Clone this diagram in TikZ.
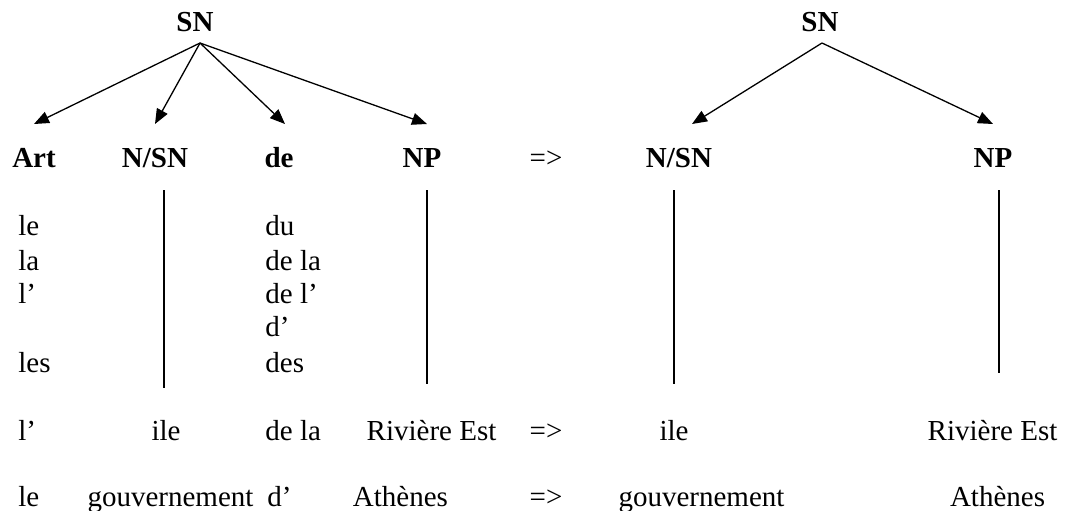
\documentclass[tikz,border=0pt]{standalone}
\usepackage{fontspec}
\setmainfont{Liberation Serif}
\usetikzlibrary{arrows.meta}
\newcommand{\treefont}{\fontsize{14.5}{17}\selectfont}
\tikzset{
  root/.style={font=\treefont\bfseries,inner sep=0pt,outer ysep=6pt,text height=10pt,text depth=0pt,anchor=base},
  cat/.style={font=\treefont\bfseries,inner sep=0pt,outer ysep=11.5pt,text height=10pt,text depth=0pt,anchor=base},
  word/.style={font=\treefont,inner sep=0pt,text height=10pt,text depth=0pt,anchor=base west},
  form/.style={font=\treefont,inner sep=0pt,text height=10pt,text depth=0pt,anchor=base},
  branch/.style={-{Triangle[length=7.5pt,width=6pt]},line width=0.65pt},
  stem/.style={line width=0.65pt}
}

\begin{document}
\begin{tikzpicture}[x=0.5pt,y=-0.5pt]
    \useasboundingbox (0,0) rectangle (1069,510);

    % — Left tree: categories
    \node [root] (snL)   at (195, 31) {SN};
    \node [cat]  (art)   at ( 34,167) {Art};
    \node [cat]  (nsnL)  at (155,167) {N/SN};
    \node [cat]  (de)    at (279,167) {de};
    \node [cat]  (npL)   at (422,167) {NP};
    \node [form] (impl1) at (546,167) {=>};

    % — Right tree: categories
    \node [root] (snR)   at (820, 31) {SN};
    \node [cat]  (nsnR)  at (679,167) {N/SN};
    \node [cat]  (npR)   at (993,167) {NP};

    % — Forms of the article and of the preposition
    \node [word] (art1) at ( 18,235) {le};
    \node [word] (art2) at ( 18,270) {la};
    \node [word] (art3) at ( 18,303) {l’};
    \node [word] (art4) at ( 18,372) {les};
    \node [word] (de1)  at (265,235) {du};
    \node [word] (de2)  at (265,270) {de la};
    \node [word] (de3)  at (265,303) {de l’};
    \node [word] (de4)  at (265,336) {d’};
    \node [word] (de5)  at (265,372) {des};

    % — First example
    \node [word] (exA1)  at ( 18,440) {l’};
    \node [form] (ileL)  at (166,440) {ile};
    \node [word] (exA2)  at (265,440) {de la};
    \node [form] (rivL)  at (431.5,440) {Rivière Est};
    \node [form] (impl2) at (546,440) {=>};
    \node [form] (ileR)  at (674,440) {ile};
    \node [form] (rivR)  at (992.5,440) {Rivière Est};

    % — Second example
    \node [word] (exB1)  at ( 18,506) {le};
    \node [form] (gouvL) at (170.5,506) {gouvernement};
    \node [word] (exB2)  at (267,506) {d’};
    \node [form] (athL)  at (400.5,506) {Athènes};
    \node [form] (impl3) at (546,506) {=>};
    \node [form] (gouvR) at (701.5,506) {gouvernement};
    \node [form] (athR)  at (997.5,506) {Athènes};

    % — Branches of the trees
    \draw [branch] ([xshift=2.5pt]snL.south) -- (art.north);
    \draw [branch] ([xshift=2.5pt]snL.south) -- (nsnL.north);
    \draw [branch] ([xshift=2.5pt]snL.south) -- ([xshift=3pt]de.north);
    \draw [branch] ([xshift=2.5pt]snL.south) -- ([xshift=2.5pt]npL.north);
    \draw [branch] ([xshift=1pt]snR.south) -- ([xshift=6.5pt]nsnR.north);
    \draw [branch] ([xshift=1pt]snR.south) -- (npR.north);

    % — Vertical stems down to the examples
    \draw [stem, shorten >=16pt]   ([xshift=4.5pt]nsnL.south) -- ([xshift=-1pt]ileL.north);
    \draw [stem, shorten >=18pt]   ([xshift=2.5pt]npL.south)  -- ([xshift=-2.25pt]rivL.north);
    \draw [stem, shorten >=18pt]   ([xshift=-2.5pt]nsnR.south) -- (ileR.north);
    \draw [stem, shorten >=23.5pt] ([xshift=3pt]npR.south)    -- ([xshift=3.25pt]rivR.north);
\end{tikzpicture}
\end{document}
